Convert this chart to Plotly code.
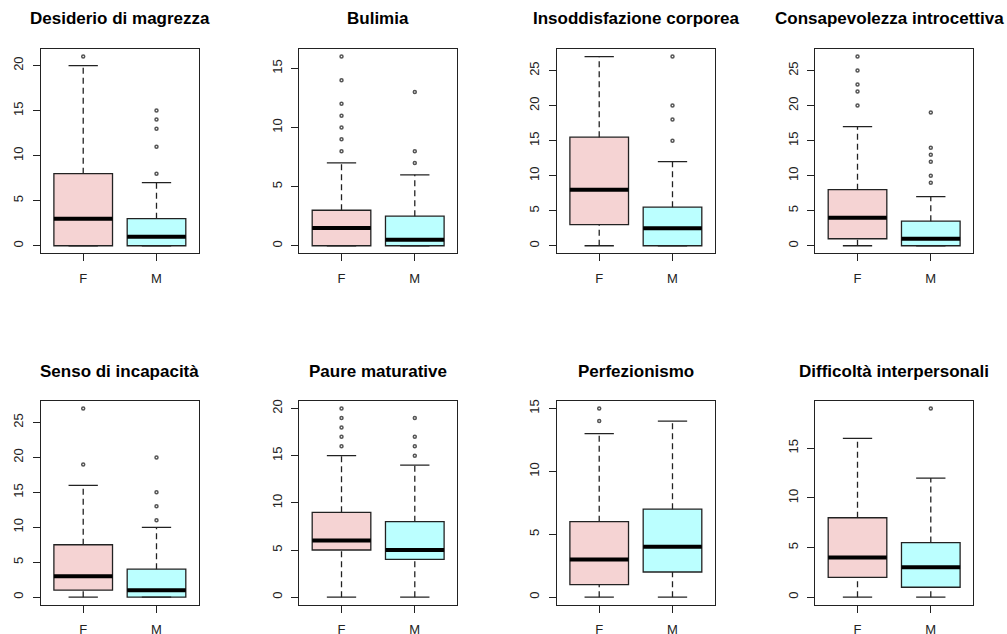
import plotly.graph_objects as go

titles = ["Desiderio di magrezza", "Bulimia", "Insoddisfazione corporea",
          "Consapevolezza introcettiva", "Senso di incapacità", "Paure maturative",
          "Perfezionismo", "Difficoltà interpersonali"]
groups = ["F", "M"]
positions = [1, 2]

# per panel: [F, M]
q1 = [[0, 0], [0, 0], [3, 0], [1, 0], [1, 0], [5, 4], [1, 2], [2, 1]]
median = [[3, 1], [1.5, 0.5], [8, 2.5], [4, 1], [3, 1], [6, 5], [3, 4], [4, 3]]
q3 = [[8, 3], [3, 2.5], [15.5, 5.5], [8, 3.5], [7.5, 4], [9, 8], [6, 7], [8, 5.5]]
whisk_lo = [[0, 0], [0, 0], [0, 0], [0, 0], [0, 0], [0, 0], [0, 0], [0, 0]]
whisk_hi = [[20, 7], [7, 6], [27, 12], [17, 7], [16, 10], [15, 14], [13, 14], [16, 12]]
outliers = [
    [[21], [8, 11, 13, 14, 15]],
    [[8, 9, 10, 11, 12, 14, 16], [7, 8, 13]],
    [[], [15, 18, 20, 27]],
    [[20, 22, 23, 25, 27], [9, 10, 12, 13, 14, 19]],
    [[19, 27], [11, 13, 15, 20]],
    [[16, 17, 18, 19, 20], [15, 16, 17, 19]],
    [[14, 15], []],
    [[], [19]],
]

fills = ["#F5D3D3", "#BBFFFF"]
W, H = 1007, 634
panel_left = [40.7, 299, 556.7, 815]
panel_w = 158.3
row_top = [49, 401]
row_bot = [253.3, 604.7]
title_y = [18, 371]
BOXW = 0.8
STAPLE = 0.4

fig = go.Figure()
FONT = "Liberation Sans, Arial, sans-serif"

for i in range(8):
    r, c = divmod(i, 4)
    ax = "" if i == 0 else str(i + 1)
    xref, yref = "x" + ax, "y" + ax
    for g in range(2):
        p = positions[g]
        fig.add_trace(go.Box(
            x=[p], q1=[q1[i][g]], median=[median[i][g]], q3=[q3[i][g]],
            width=BOXW, fillcolor=fills[g], line=dict(color="#222", width=1.3),
            boxpoints=False, xaxis=xref, yaxis=yref, showlegend=False, hoverinfo="skip"))
        fig.add_trace(go.Scatter(
            x=[p - BOXW / 2, p + BOXW / 2], y=[median[i][g]] * 2, mode="lines",
            line=dict(color="black", width=4), xaxis=xref, yaxis=yref,
            showlegend=False, hoverinfo="skip"))
        for a, b in [(q3[i][g], whisk_hi[i][g]), (whisk_lo[i][g], q1[i][g])]:
            if b != a:
                fig.add_trace(go.Scatter(
                    x=[p, p], y=[a, b], mode="lines",
                    line=dict(color="#222", width=1.3, dash="6px,4px"),
                    xaxis=xref, yaxis=yref, showlegend=False, hoverinfo="skip"))
        for v in [whisk_hi[i][g], whisk_lo[i][g]]:
            fig.add_trace(go.Scatter(
                x=[p - STAPLE / 2, p + STAPLE / 2], y=[v, v], mode="lines",
                line=dict(color="#222", width=1.3),
                xaxis=xref, yaxis=yref, showlegend=False, hoverinfo="skip"))
        if outliers[i][g]:
            fig.add_trace(go.Scatter(
                x=[p] * len(outliers[i][g]), y=outliers[i][g], mode="markers",
                marker=dict(symbol="circle-open", size=3, color="#555",
                            line=dict(width=1.5, color="#555")),
                xaxis=xref, yaxis=yref, showlegend=False, hoverinfo="skip"))

    allv = q1[i] + q3[i] + whisk_lo[i] + whisk_hi[i] + outliers[i][0] + outliers[i][1]
    lo, hi = min(allv), max(allv)
    ext = (hi - lo) * 0.04
    x0 = panel_left[c] / W
    x1 = (panel_left[c] + panel_w) / W
    y0 = 1 - row_bot[r] / H
    y1 = 1 - row_top[r] / H
    fig.layout["xaxis" + ax] = dict(
        domain=[x0, x1], range=[0.42, 2.58], anchor=yref, automargin=False,
        tickvals=positions, ticktext=groups, ticks="outside", ticklen=7,
        tickwidth=1, tickcolor="#222", showline=True, mirror=True,
        linecolor="#222", linewidth=1.3, showgrid=False, zeroline=False,
        tickfont=dict(family=FONT, size=13, color="#222"), ticklabelstandoff=6,
        fixedrange=True)
    fig.layout["yaxis" + ax] = dict(
        domain=[y0, y1], range=[lo - ext, hi + ext], anchor=xref, automargin=False,
        tick0=0, dtick=5, ticks="outside", ticklen=7, tickwidth=1,
        tickcolor="#222", showline=True, mirror=True, linecolor="#222",
        linewidth=1.3, showgrid=False, zeroline=False, tickangle=-90,
        tickfont=dict(family=FONT, size=13, color="#222"), ticklabelstandoff=4,
        fixedrange=True)
    fig.add_annotation(
        text="<b>" + titles[i] + "</b>", xref="paper", yref="paper",
        x=(x0 + x1) / 2, y=1 - title_y[r] / H, xshift=(-5 if i == 3 else 0),
        xanchor="center", yanchor="middle", showarrow=False,
        font=dict(family=FONT, size=17, color="black"))

fig.update_layout(width=W, height=H, margin=dict(l=0, r=0, t=0, b=0, autoexpand=False),
                  paper_bgcolor="white", plot_bgcolor="white", template="none")
fig.write_html("out.html", config={"displayModeBar": False},
               post_script="document.body.style.margin='0';document.body.style.overflow='hidden';")
